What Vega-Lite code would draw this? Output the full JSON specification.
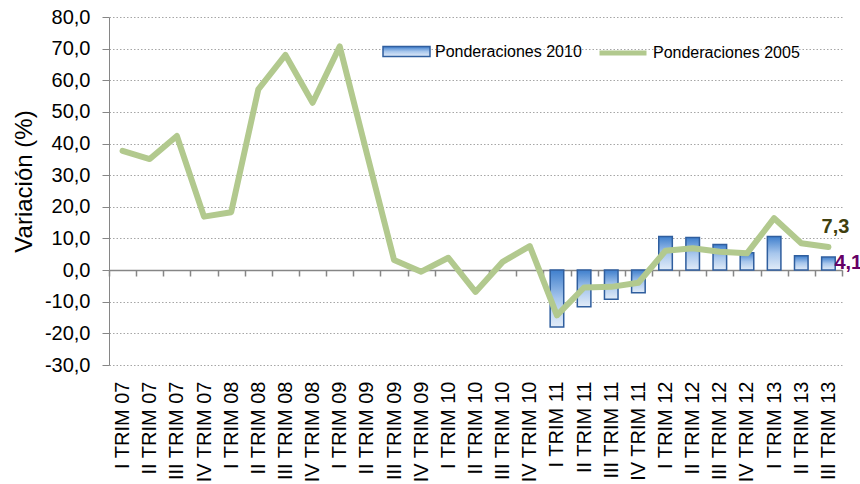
{
  "$schema": "https://vega.github.io/schema/vega-lite/v6.json",
  "width": 733,
  "height": 348,
  "autosize": {"type": "none"},
  "padding": {"left": 109, "top": 17, "right": 18, "bottom": 119},
  "background": "white",
  "config": {
    "view": {"stroke": null},
    "font": "Liberation Sans",
    "axisY": {
      "domainColor": "#868686",
      "tickColor": "#868686",
      "tickSize": 7,
      "tickCount": 11,
      "labelFontSize": 20,
      "labelColor": "#000000",
      "labelPadding": 12,
      "labelExpr": "replace(replace(format(datum.value, '.1f'), '.', ','), '\u2212', '-')",
      "gridColor": "#A6A6A6",
      "gridDash": [1.5, 2],
      "titleFontSize": 24,
      "titleFontWeight": "normal",
      "titleColor": "#000000",
      "titleX": -78,
      "titleY": 164,
      "titleBaseline": "alphabetic",
      "titleAngle": -90,
      "titleAlign": "center"
    }
  },
  "datasets": {
    "serie": [
      {"periodo": "I TRIM 07", "p2005": 37.7, "p2010": null},
      {"periodo": "II TRIM 07", "p2005": 35.1, "p2010": null},
      {"periodo": "III TRIM 07", "p2005": 42.4, "p2010": null},
      {"periodo": "IV TRIM 07", "p2005": 16.9, "p2010": null},
      {"periodo": "I TRIM 08", "p2005": 18.3, "p2010": null},
      {"periodo": "II TRIM 08", "p2005": 57.1, "p2010": null},
      {"periodo": "III TRIM 08", "p2005": 68.0, "p2010": null},
      {"periodo": "IV TRIM 08", "p2005": 52.9, "p2010": null},
      {"periodo": "I TRIM 09", "p2005": 70.7, "p2010": null},
      {"periodo": "II TRIM 09", "p2005": 36.8, "p2010": null},
      {"periodo": "III TRIM 09", "p2005": 3.2, "p2010": null},
      {"periodo": "IV TRIM 09", "p2005": -0.5, "p2010": null},
      {"periodo": "I TRIM 10", "p2005": 3.9, "p2010": null},
      {"periodo": "II TRIM 10", "p2005": -6.9, "p2010": null},
      {"periodo": "III TRIM 10", "p2005": 2.6, "p2010": null},
      {"periodo": "IV TRIM 10", "p2005": 7.6, "p2010": null},
      {"periodo": "I TRIM 11", "p2005": -14.3, "p2010": -18.0},
      {"periodo": "II TRIM 11", "p2005": -5.5, "p2010": -11.6},
      {"periodo": "III TRIM 11", "p2005": -5.3, "p2010": -9.2},
      {"periodo": "IV TRIM 11", "p2005": -4.0, "p2010": -7.2},
      {"periodo": "I TRIM 12", "p2005": 6.1, "p2010": 10.6},
      {"periodo": "II TRIM 12", "p2005": 6.9, "p2010": 10.3},
      {"periodo": "III TRIM 12", "p2005": 5.8, "p2010": 8.1},
      {"periodo": "IV TRIM 12", "p2005": 5.3, "p2010": 5.5},
      {"periodo": "I TRIM 13", "p2005": 16.4, "p2010": 10.6},
      {"periodo": "II TRIM 13", "p2005": 8.5, "p2010": 4.5},
      {"periodo": "III TRIM 13", "p2005": 7.3, "p2010": 4.1}
    ]
  },
  "data": {"name": "serie"},
  "encoding": {
    "x": {
      "field": "periodo",
      "type": "nominal",
      "sort": null,
      "scale": {
        "domain": ["I TRIM 07", "II TRIM 07", "III TRIM 07", "IV TRIM 07", "I TRIM 08", "II TRIM 08", "III TRIM 08", "IV TRIM 08", "I TRIM 09", "II TRIM 09", "III TRIM 09", "IV TRIM 09", "I TRIM 10", "II TRIM 10", "III TRIM 10", "IV TRIM 10", "I TRIM 11", "II TRIM 11", "III TRIM 11", "IV TRIM 11", "I TRIM 12", "II TRIM 12", "III TRIM 12", "IV TRIM 12", "I TRIM 13", "II TRIM 13", "III TRIM 13"],
        "paddingInner": 0,
        "paddingOuter": 0
      },
      "axis": {
        "title": null,
        "offset": -95,
        "grid": false,
        "domainColor": "#868686",
        "domainWidth": 1.5,
        "tickColor": "#868686",
        "tickWidth": 1.5,
        "tickSize": 6,
        "tickBand": "extent",
        "labelAngle": -90,
        "labelFontSize": 20,
        "labelColor": "#000000",
        "labelPadding": 105
      }
    }
  },
  "layer": [
    {
      "mark": {
        "type": "bar",
        "width": {"band": 0.5},
        "strokeWidth": 1.5,
        "fill": {
          "gradient": "linear",
          "x1": 0, "y1": 0, "x2": 0, "y2": 1,
          "stops": [
            {"offset": 0, "color": "#3F7FCD"},
            {"offset": 0.5, "color": "#A7C6EC"},
            {"offset": 1, "color": "#E2ECF8"}
          ]
        }
      },
      "encoding": {
        "y": {"field": "p2010", "type": "quantitative", "scale": {"domain": [-30, 80], "nice": false}, "axis": {"title": "Variación (%)"}},
        "stroke": {
          "datum": "Ponderaciones 2010",
          "scale": {"range": ["#2F5E9E"]},
          "legend": {
            "title": null,
            "orient": "none",
            "legendX": 273,
            "legendY": 10,
            "padding": 0,
            "symbolType": "M-1,-0.213H1V0.213H-1Z",
            "symbolSize": 2209,
            "symbolStrokeWidth": 1.5,
            "symbolFillColor": "#C9DBF2",
            "labelFontSize": 16,
            "labelColor": "#000000",
            "labelOffset": 4
          }
        }
      }
    },
    {
      "mark": {"type": "line", "strokeWidth": 6, "strokeCap": "round", "strokeJoin": "round"},
      "encoding": {
        "y": {"field": "p2005", "type": "quantitative", "scale": {"domain": [-30, 80], "nice": false}, "axis": {"title": "Variación (%)"}},
        "stroke": {
          "datum": "Ponderaciones 2005",
          "scale": {"range": ["#B2C98E"]},
          "legend": {
            "title": null,
            "orient": "none",
            "legendX": 488,
            "legendY": 10,
            "padding": 0,
            "symbolType": "stroke",
            "symbolSize": 2209,
            "symbolStrokeWidth": 5,
            "labelFontSize": 16,
            "labelColor": "#000000",
            "labelOffset": 4
          }
        }
      }
    },
    {
      "data": {"values": [{"periodo": "III TRIM 13", "valor": 7.3, "etiqueta": "7,3"}]},
      "mark": {"type": "text", "fontSize": 20, "fontWeight": "bold", "color": "#3F3F0F", "align": "center", "baseline": "alphabetic", "dx": 7, "dy": -14},
      "encoding": {
        "y": {"field": "valor", "type": "quantitative", "scale": {"domain": [-30, 80], "nice": false}, "axis": {"title": "Variación (%)"}},
        "text": {"field": "etiqueta"}
      }
    },
    {
      "data": {"values": [{"periodo": "III TRIM 13", "valor": 4.1, "etiqueta": "4,1"}]},
      "mark": {"type": "text", "fontSize": 20, "fontWeight": "bold", "color": "#660066", "align": "left", "baseline": "alphabetic", "dx": 6, "dy": 12},
      "encoding": {
        "y": {"field": "valor", "type": "quantitative", "scale": {"domain": [-30, 80], "nice": false}, "axis": {"title": "Variación (%)"}},
        "text": {"field": "etiqueta"}
      }
    }
  ],
  "resolve": {"scale": {"stroke": "independent"}}
}
